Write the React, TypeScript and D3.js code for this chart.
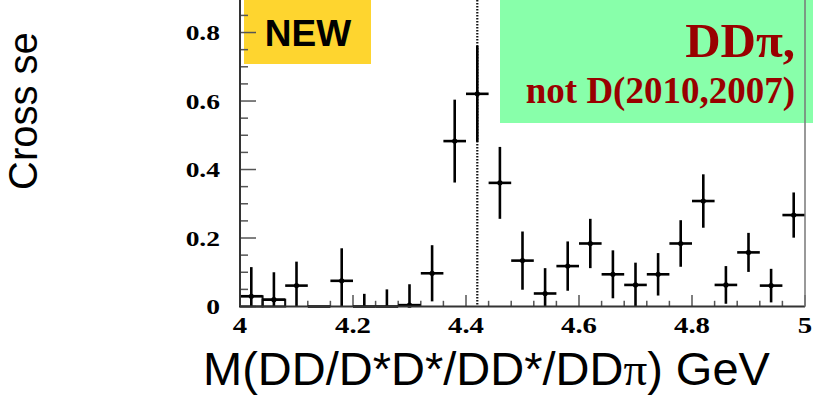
import React from "react";
import * as d3 from "d3";

// Bin centres (GeV), 0.04 GeV wide
const binCenters = [
  4.02, 4.06, 4.1, 4.14, 4.18, 4.22, 4.26, 4.3, 4.34, 4.38, 4.42, 4.46, 4.5,
  4.54, 4.58, 4.62, 4.66, 4.7, 4.74, 4.78, 4.82, 4.86, 4.9, 4.94, 4.98,
];
// Measured cross section (nb)
const crossSection = [
  0.03, 0.02, 0.061, 0, 0.075, 0, 0, 0.004, 0.097, 0.483, 0.621, 0.361, 0.134,
  0.038, 0.118, 0.184, 0.094, 0.063, 0.094, 0.184, 0.308, 0.063, 0.158, 0.061,
  0.267,
];
// Statistical errors
const crossSectionErr = [
  0.085, 0.08, 0.07, 0, 0.095, 0.037, 0.05, 0.061, 0.082, 0.121, 0.14, 0.105,
  0.085, 0.074, 0.072, 0.072, 0.07, 0.065, 0.062, 0.068, 0.078, 0.055, 0.057,
  0.049, 0.066,
];
const binWidth = 0.04;
const outlinedBins = [0, 1];
const thresholdMass = 4.42;

const xTickLabels = ["4", "4.2", "4.4", "4.6", "4.8", "5"];
const xLabelValues = [4, 4.2, 4.4, 4.6, 4.8, 5];
const yTickLabels = ["0", "0.2", "0.4", "0.6", "0.8"];
const yLabelValues = [0, 0.2, 0.4, 0.6, 0.8];

const W = 824;
const H = 403;

export default function App() {
  const x = d3.scaleLinear().domain([4, 5]).range([240, 805]);
  const y = d3.scaleLinear().domain([0, 0.895]).range([306.5, 0]);

  const xTicks = d3.range(0, 26).map((i) => ({ v: 4 + i * 0.04, major: i % 5 === 0 }));
  const yTicks = d3.range(0, 18).map((i) => ({ v: i * 0.05, major: i % 4 === 0 }));

  const serif = "'Liberation Serif', 'Times New Roman', serif";
  const sans = "'Liberation Sans', Arial, Helvetica, sans-serif";

  return (
    <svg
      width={W}
      height={H}
      viewBox={`0 0 ${W} ${H}`}
      style={{ position: "absolute", left: 0, top: 0, background: "#fff" }}
    >
      {/* annotation boxes */}
      <rect x={244} y={0} width={127} height={64} fill="#FED52F" />
      <text x={308} y={46} textAnchor="middle" fontFamily={sans} fontWeight="bold" fontSize={37} fill="#000">
        NEW
      </text>
      <rect x={500} y={0} width={313} height={123} fill="#88FFAA" />
      <text x={795} y={57} textAnchor="end" fontFamily={serif} fontWeight="bold" fontSize={49} fill="#990000">
        DDπ,
      </text>
      <text x={795} y={103} textAnchor="end" fontFamily={serif} fontWeight="bold" fontSize={37} fill="#990000">
        not D(2010,2007)
      </text>

      {/* axis ticks */}
      {xTicks.map((t, i) => (
        <line
          key={"xt" + i}
          x1={x(t.v)}
          x2={x(t.v)}
          y1={y(0)}
          y2={y(0) - (t.major ? 11.5 : 5.7)}
          stroke="#555"
          strokeWidth={1.5}
        />
      ))}
      {yTicks.map((t, i) => (
        <line
          key={"yt" + i}
          x1={x(4)}
          x2={x(4) + (t.major ? 16 : 8)}
          y1={y(t.v)}
          y2={y(t.v)}
          stroke="#555"
          strokeWidth={1.5}
        />
      ))}

      {/* threshold marker */}
      <line
        x1={x(thresholdMass)}
        x2={x(thresholdMass)}
        y1={0}
        y2={y(0)}
        stroke="#111"
        strokeWidth={2.2}
        strokeDasharray="1.6,1.4"
      />

      {/* histogram outline for the lowest bins */}
      {outlinedBins.map((i) => (
        <rect
          key={"ob" + i}
          x={x(binCenters[i] - binWidth / 2)}
          y={y(crossSection[i])}
          width={x(binCenters[i] + binWidth / 2) - x(binCenters[i] - binWidth / 2)}
          height={y(0) - y(crossSection[i])}
          fill="none"
          stroke="#111"
          strokeWidth={2}
        />
      ))}

      {/* data points with error bars */}
      {binCenters.map((c, i) => {
        const v = crossSection[i];
        const e = crossSectionErr[i];
        const lo = Math.max(0, v - e);
        return (
          <g key={"p" + i} stroke="#000" strokeWidth={2.6}>
            {e > 0 && <line x1={x(c)} x2={x(c)} y1={y(v + e)} y2={y(lo)} />}
            <line x1={x(c - binWidth / 2)} x2={x(c + binWidth / 2)} y1={y(v)} y2={y(v)} />
            {v > 0 && <circle cx={x(c)} cy={y(v)} r={2.6} fill="#000" stroke="none" />}
          </g>
        );
      })}

      {/* frame */}
      <line x1={x(4)} x2={x(4)} y1={0} y2={y(0)} stroke="#333" strokeWidth={2} />
      <line x1={x(4)} x2={x(5)} y1={y(0)} y2={y(0)} stroke="#333" strokeWidth={2} />
      <line x1={x(5)} x2={x(5)} y1={0} y2={y(0)} stroke="#777" strokeWidth={1.5} />

      {/* tick labels */}
      {xLabelValues.map((v, i) => (
        <text
          key={"xl" + i}
          transform={`translate(${x(v)},333) scale(1.2,1)`}
          textAnchor="middle"
          fontFamily={serif}
          fontWeight="bold"
          fontSize={24}
          fill="#000"
        >
          {xTickLabels[i]}
        </text>
      ))}
      {yLabelValues.map((v, i) => (
        <text
          key={"yl" + i}
          transform={`translate(220,${y(v) + 7.5}) scale(1.25,1)`}
          textAnchor="end"
          fontFamily={serif}
          fontWeight="bold"
          fontSize={22}
          fill="#000"
        >
          {yTickLabels[i]}
        </text>
      ))}

      {/* axis titles */}
      <text x={203} y={385} fontFamily={sans} fontSize={47} fill="#000">
        M(DD/D*D*/DD*/DD<tspan fontFamily={serif}>π</tspan>) GeV
      </text>
      <text transform="translate(36.5,190) rotate(-90)" fontFamily={sans} fontSize={40} fill="#000">
        Cross se
      </text>
    </svg>
  );
}
